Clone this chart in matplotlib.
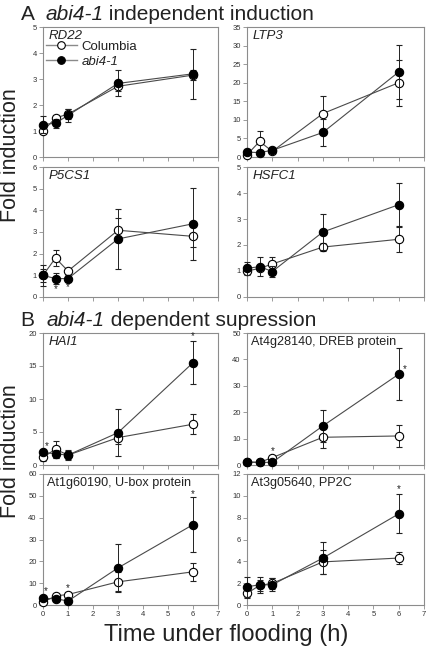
import matplotlib
matplotlib.use("Agg")
import matplotlib.pyplot as plt
from matplotlib.lines import Line2D

plt.rcParams["font.family"] = ["Liberation Sans", "DejaVu Sans"]

# tiempos de muestreo (h)
times = [0, 0.5, 1, 3, 6]

# A: inducción independiente de abi4-1
rd22_col = [1.0, 1.5, 1.65, 2.72, 3.15]
rd22_col_err = [0.1, 0.1, 0.2, 0.2, 0.2]
rd22_abi = [1.25, 1.3, 1.6, 2.83, 3.2]
rd22_abi_err = [0.33, 0.18, 0.25, 0.5, 0.95]

ltp3_col = [0.6, 4.2, 1.5, 11.7, 20.0]
ltp3_col_err = [0.3, 2.8, 0.5, 4.8, 6.2]
ltp3_abi = [1.3, 1.2, 1.8, 6.6, 22.9]
ltp3_abi_err = [0.8, 0.4, 0.4, 3.6, 7.2]

p5cs1_col = [1.0, 1.8, 1.2, 3.08, 2.8]
p5cs1_col_err = [0.3, 0.35, 0.12, 0.55, 0.5]
p5cs1_abi = [1.0, 0.85, 0.85, 2.68, 3.38]
p5cs1_abi_err = [0.48, 0.25, 0.15, 1.38, 1.65]

hsfc1_col = [1.0, 1.1, 1.27, 1.92, 2.22]
hsfc1_col_err = [0.08, 0.1, 0.25, 0.15, 0.48]
hsfc1_abi = [1.1, 1.17, 0.98, 2.5, 3.55]
hsfc1_abi_err = [0.25, 0.35, 0.2, 0.7, 0.82]

# B: represión dependiente de abi4-1
hai1_col = [1.16, 2.4, 1.5, 4.15, 6.18]
hai1_col_err = [0.5, 1.3, 0.6, 1.0, 1.5]
hai1_abi = [1.9, 1.7, 1.5, 4.9, 15.5]
hai1_abi_err = [0.4, 0.6, 0.7, 3.6, 3.3]

dreb_col = [1.0, 1.0, 2.8, 10.5, 11.0]
dreb_col_err = [0.3, 0.3, 0.5, 4.0, 4.0]
dreb_abi = [1.2, 1.0, 1.0, 14.8, 34.4]
dreb_abi_err = [0.4, 0.3, 0.3, 6.2, 9.8]

ubox_col = [1.2, 4.2, 4.8, 10.6, 15.2]
ubox_col_err = [0.6, 1.0, 1.0, 4.6, 4.0]
ubox_abi = [3.0, 2.9, 1.8, 17.0, 36.8]
ubox_abi_err = [0.8, 1.0, 0.6, 10.8, 12.7]

pp2c_col = [1.06, 1.8, 1.98, 3.95, 4.3]
pp2c_col_err = [0.4, 0.5, 0.5, 1.1, 0.58]
pp2c_abi = [1.67, 1.85, 1.85, 4.3, 8.35]
pp2c_abi_err = [0.9, 0.75, 0.6, 1.5, 1.8]

# asteriscos (x, y)
p5cs1_stars = [(0.5, 0.38), (1, 0.48)]
hai1_stars = [(0.15, 2.9), (6, 19.6)]
dreb_stars = [(1, 5.3), (6.25, 36.5)]
ubox_stars = [(0.1, 6.3), (1.0, 7.8), (6.0, 51.0)]
pp2c_stars = [(6, 10.6)]

panels = [
    # nombre, italica, col, col_err, abi, abi_err, ymax, paso, estrellas, pos
    ("RD22", True, rd22_col, rd22_col_err, rd22_abi, rd22_abi_err, 5, 1, [], (0, 0)),
    ("LTP3", True, ltp3_col, ltp3_col_err, ltp3_abi, ltp3_abi_err, 35, 5, [], (0, 1)),
    ("P5CS1", True, p5cs1_col, p5cs1_col_err, p5cs1_abi, p5cs1_abi_err, 6, 1, p5cs1_stars, (1, 0)),
    ("HSFC1", True, hsfc1_col, hsfc1_col_err, hsfc1_abi, hsfc1_abi_err, 5, 1, [], (1, 1)),
    ("HAI1", True, hai1_col, hai1_col_err, hai1_abi, hai1_abi_err, 20, 5, hai1_stars, (2, 0)),
    ("At4g28140, DREB protein", False, dreb_col, dreb_col_err, dreb_abi, dreb_abi_err, 50, 10, dreb_stars, (2, 1)),
    ("At1g60190, U-box protein", False, ubox_col, ubox_col_err, ubox_abi, ubox_abi_err, 60, 10, ubox_stars, (3, 0)),
    ("At3g05640, PP2C", False, pp2c_col, pp2c_col_err, pp2c_abi, pp2c_abi_err, 12, 2, pp2c_stars, (3, 1)),
]

W, H = 430, 652
fig = plt.figure(figsize=(W / 100, H / 100), dpi=100)

col_x = [(43, 218), (247, 424)]
row_y = [(27, 157), (167, 297), (333, 465), (474, 605)]

spine_col = "#8c8c8c"
line_col = "#4a4a4a"
txt_col = "#222222"

for name, ital, col, col_err, abi, abi_err, ymax, step, stars, (r, c) in panels:
    x0, x1 = col_x[c]
    y0, y1 = row_y[r]
    ax = fig.add_axes([x0 / W, 1 - y1 / H, (x1 - x0) / W, (y1 - y0) / H])

    ax.errorbar(times, col, yerr=col_err, fmt="o-", color=line_col, lw=0.8,
                mfc="white", mec="black", mew=0.8, ms=6, ecolor="#222222",
                elinewidth=0.7, capsize=2, capthick=0.7, clip_on=False, zorder=3)
    ax.errorbar(times, abi, yerr=abi_err, fmt="o-", color=line_col, lw=0.8,
                mfc="black", mec="black", mew=0.8, ms=6, ecolor="#222222",
                elinewidth=0.7, capsize=2, capthick=0.7, clip_on=False, zorder=4)

    for sx, sy in stars:
        ax.text(sx, sy, "*", ha="center", va="center", fontsize=7, color=txt_col)

    ax.set_xlim(0, 7)
    ax.set_ylim(0, ymax)
    ax.set_xticks(range(0, 8))
    ax.set_yticks(range(0, ymax + 1, step))
    ax.tick_params(direction="out", length=3, width=0.6, color=spine_col,
                   labelsize=5.5, labelcolor="#333333", pad=1.5)
    if r != 3:
        ax.tick_params(labelbottom=False)
    for s in ax.spines.values():
        s.set_color(spine_col)
        s.set_linewidth(0.8)

    if ital:
        ax.text(0.03, 0.975, name, transform=ax.transAxes, ha="left", va="top",
                fontsize=9.5, style="italic", color=txt_col)
    else:
        ax.text(0.022, 0.975, name, transform=ax.transAxes, ha="left", va="top",
                fontsize=9.1, color=txt_col)

    if name == "RD22":
        h_col = Line2D([], [], color="#8a8a8a", lw=1.0, marker="o", mfc="white",
                       mec="black", mew=0.8, ms=5.5)
        h_abi = Line2D([], [], color="#8a8a8a", lw=1.0, marker="o", mfc="black",
                       mec="black", mew=0.8, ms=5.5)
        leg = ax.legend([h_col, h_abi], ["Columbia", "abi4-1"], loc="upper left",
                        bbox_to_anchor=(0.015, 0.895), frameon=False, fontsize=9.5,
                        handlelength=2.4, handletextpad=0.3, labelspacing=0.2,
                        borderpad=0, borderaxespad=0, numpoints=1)
        for t in leg.get_texts():
            t.set_color(txt_col)
        leg.get_texts()[1].set_style("italic")

# títulos de las secciones, por partes (letra, gen en cursiva, resto)
renderer = fig.canvas.get_renderer()


def titulo(y_px, letra, resto):
    x = 21
    for s, st in [(letra + "  ", "normal"), ("abi4-1", "italic"), (" " + resto, "normal")]:
        t = fig.text(x / W, 1 - y_px / H, s, fontsize=15, style=st,
                     ha="left", va="baseline", color=txt_col)
        bb = t.get_window_extent(renderer)
        x += bb.width


titulo(20, "A", "independent induction")
titulo(326, "B", "dependent supression")

# etiquetas de los ejes
fig.text(11 / W, 1 - 155 / H, "Fold induction", rotation=90, fontsize=15.5,
         ha="center", va="center", color=txt_col)
fig.text(11 / W, 1 - 451 / H, "Fold induction", rotation=90, fontsize=15.5,
         ha="center", va="center", color=txt_col)
fig.text(226 / W, 1 - 635 / H, "Time under flooding (h)", fontsize=17,
         ha="center", va="center", color=txt_col)

fig.savefig("out.png", dpi=100)
